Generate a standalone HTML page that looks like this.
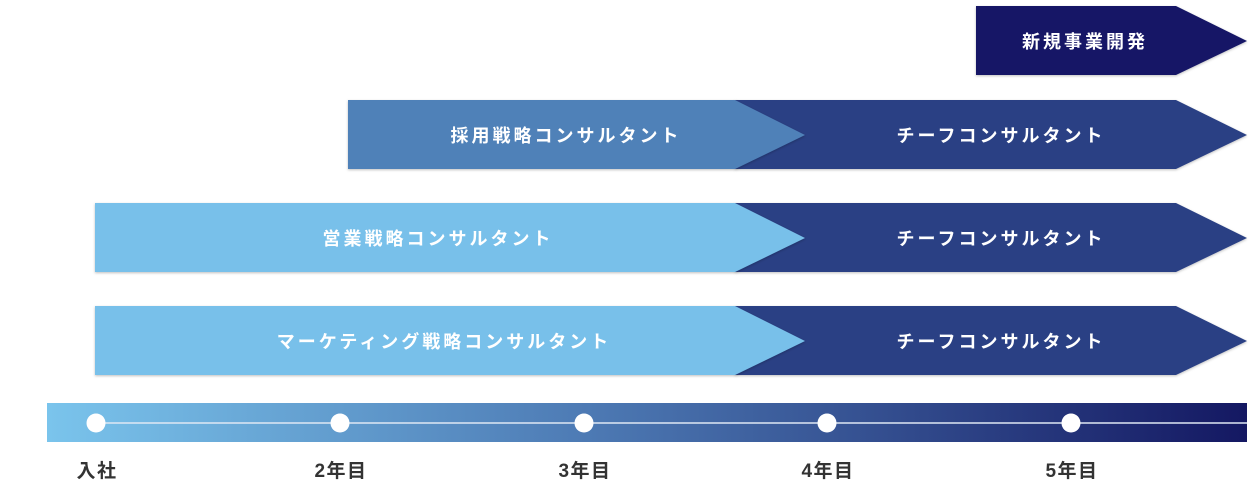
<!DOCTYPE html>
<html><head><meta charset="utf-8"><style>
html,body{margin:0;padding:0;background:#fff;}
svg{display:block;}
text{font-family:"Liberation Sans","Noto Sans CJK JP",sans-serif;font-weight:bold;}
</style></head><body>
<svg width="1257" height="499" viewBox="0 0 1257 499" xmlns="http://www.w3.org/2000/svg">
<defs>
<linearGradient id="g" x1="0" x2="1" y1="0" y2="0">
<stop offset="0" stop-color="#7ac4ec"/>
<stop offset="0.45" stop-color="#4d7ab4"/>
<stop offset="1" stop-color="#141862"/>
</linearGradient>
<filter id="s" x="-5%" y="-20%" width="110%" height="140%"><feDropShadow dx="0" dy="1" stdDeviation="1.2" flood-color="#000" flood-opacity="0.25"/></filter>
</defs>
<g font-size="18" letter-spacing="3" text-anchor="middle" fill="#fff">
<polygon points="976,6 1176,6 1247,41 1176,75 976,75" fill="#141866" filter="url(#s)"/>
<text x="1085" y="48">新規事業開発</text>
<polygon points="735,100 1176,100 1247,135 1176,169 735,169" fill="#2b4184" filter="url(#s)"/>
<polygon points="348,100 735,100 805,135 735,169 348,169" fill="#4f81b8" filter="url(#s)"/>
<text x="566" y="142">採用戦略コンサルタント</text>
<text x="1001" y="142">チーフコンサルタント</text>
<polygon points="735,203 1176,203 1247,238 1176,272 735,272" fill="#2b4184" filter="url(#s)"/>
<polygon points="95,203 735,203 805,238 735,272 95,272" fill="#78c0ea" filter="url(#s)"/>
<text x="438" y="245">営業戦略コンサルタント</text>
<text x="1001" y="245">チーフコンサルタント</text>
<polygon points="735,306 1176,306 1247,341 1176,375 735,375" fill="#2b4184" filter="url(#s)"/>
<polygon points="95,306 735,306 805,341 735,375 95,375" fill="#78c0ea" filter="url(#s)"/>
<text x="444" y="348">マーケティング戦略コンサルタント</text>
<text x="1001" y="348">チーフコンサルタント</text>
</g>
<rect x="47" y="403" width="1200" height="39" fill="url(#g)"/>
<line x1="96" y1="423" x2="1247" y2="423" stroke="#dfe8f4" stroke-width="1.5"/>
<g fill="#fff">
<circle cx="96" cy="423" r="9.5"/><circle cx="340" cy="423" r="9.5"/><circle cx="584" cy="423" r="9.5"/><circle cx="827" cy="423" r="9.5"/><circle cx="1071" cy="423" r="9.5"/>
</g>
<g fill="#333" font-size="19" text-anchor="middle" letter-spacing="1.5">
<text x="97" y="477">入社</text>
<text x="341" y="477">2年目</text>
<text x="585" y="477">3年目</text>
<text x="828" y="477">4年目</text>
<text x="1072" y="477">5年目</text>
</g>
</svg>
</body></html>
